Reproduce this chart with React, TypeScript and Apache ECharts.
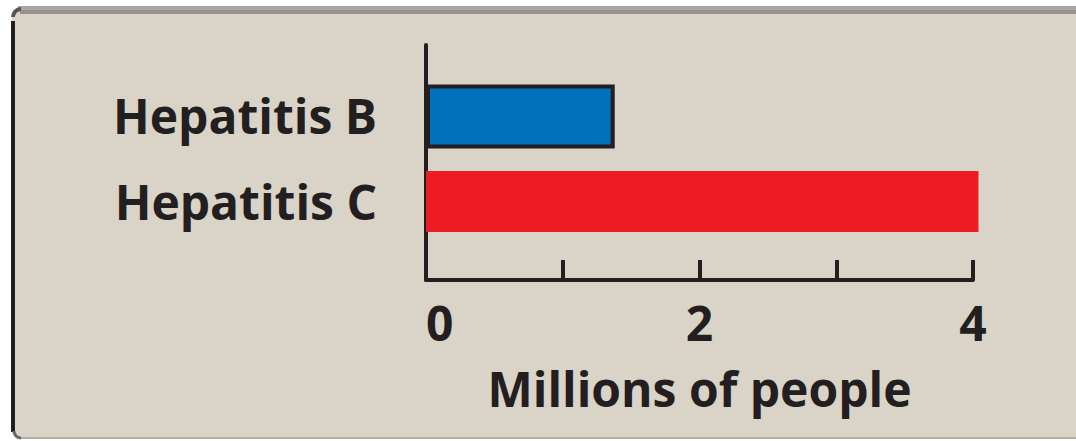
import React, { useEffect, useRef } from "react";
import * as echarts from "echarts";

const categories = ["Hepatitis B", "Hepatitis C"];
const hepBValues = [1.38, "-"];
const hepCValues = ["-", 4.04];
const tickLabels = ["0", "", "2", "", "4"];
const axisTitle = "Millions of people";

const INK = "#231f20";
const FONT = "'Open Sans', 'Noto Sans', sans-serif";

export default function App() {
  const ref = useRef<HTMLDivElement>(null);
  useEffect(() => {
    if (!ref.current) return;
    const chart = echarts.init(ref.current, undefined, { renderer: "svg" });
    chart.setOption({
      animation: false,
      backgroundColor: "#ffffff",
      graphic: [
        { type: "rect", z: -10, shape: { x: 12, y: 8, width: 1100, height: 431, r: 8 }, style: { fill: "#dad3c7" } },
        { type: "rect", z: -9, shape: { x: 18, y: 6, width: 1070, height: 4 }, style: { fill: "#a9a7a5" } },
        { type: "rect", z: -9, shape: { x: 20, y: 10, width: 1070, height: 4 }, style: { fill: "#9a918b" } },
        { type: "rect", z: -9, shape: { x: 11, y: 21, width: 4, height: 411 }, style: { fill: INK } },
        { type: "rect", z: -9, shape: { x: 18, y: 437, width: 1070, height: 2 }, style: { fill: "#b3ada7" } },
        { type: "arc", z: -9, shape: { cx: 21, cy: 17, r: 8, startAngle: Math.PI, endAngle: Math.PI * 1.5 }, style: { stroke: "#5a5452", lineWidth: 4, fill: "none" } },
        { type: "arc", z: -9, shape: { cx: 21, cy: 431, r: 7, startAngle: Math.PI * 0.5, endAngle: Math.PI }, style: { stroke: "#6a6462", lineWidth: 3, fill: "none" } },
      ],
      grid: [
        { left: 426, right: 1076 - 973, top: 71.75, height: 173, containLabel: false },
        { left: 426, right: 1076 - 973, top: 45, height: 235, containLabel: false },
      ],
      xAxis: [
        {
          type: "value",
          gridIndex: 0,
          min: 0,
          max: 4,
          interval: 1,
          offset: 35.25,
          splitLine: { show: false },
          axisLine: { show: true, lineStyle: { color: INK, width: 4 } },
          axisTick: { show: true, inside: true, length: 20, lineStyle: { color: INK, width: 4 } },
          axisLabel: {
            show: true,
            margin: 18,
            color: INK,
            fontFamily: FONT,
            fontWeight: "bold",
            fontSize: 48,
            alignMinLabel: "left",
            formatter: (v: number) => tickLabels[Math.round(v)] ?? "",
          },
          name: axisTitle,
          nameLocation: "middle",
          nameGap: 84,
          nameTextStyle: { color: INK, fontFamily: FONT, fontWeight: "bold", fontSize: 48 },
        },
        { type: "value", gridIndex: 1, show: false, min: 0, max: 4 },
      ],
      yAxis: [
        {
          type: "category",
          gridIndex: 0,
          data: categories,
          inverse: true,
          axisLine: { show: false },
          axisTick: { show: false },
          axisLabel: {
            margin: 49,
            color: INK,
            fontFamily: FONT,
            fontWeight: "bold",
            fontSize: 48,
          },
        },
        {
          type: "value",
          gridIndex: 1,
          min: 0,
          max: 1,
          axisLine: { show: true, lineStyle: { color: INK, width: 4 } },
          axisTick: { show: false },
          axisLabel: { show: false },
          splitLine: { show: false },
        },
      ],
      series: [
        {
          type: "bar",
          name: "Hepatitis B",
          xAxisIndex: 0,
          yAxisIndex: 0,
          barWidth: 64,
          barGap: "-100%",
          clip: false,
          itemStyle: { color: "#0071bb", borderColor: INK, borderWidth: 4 },
          data: hepBValues,
        },
        {
          type: "bar",
          name: "Hepatitis C",
          xAxisIndex: 0,
          yAxisIndex: 0,
          barWidth: 61,
          barGap: "-100%",
          clip: false,
          itemStyle: { color: "#ed1c24" },
          data: hepCValues,
        },
      ],
    });
    return () => chart.dispose();
  }, []);
  return (
    <div
      ref={ref}
      style={{ position: "fixed", left: 0, top: 0, width: 1076, height: 441 }}
    />
  );
}
